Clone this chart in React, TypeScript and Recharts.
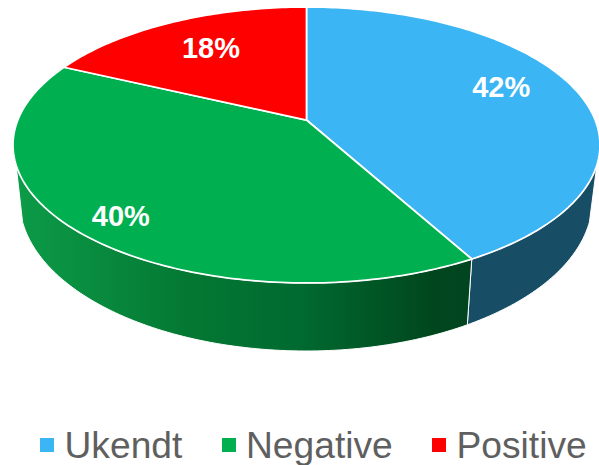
import { PieChart, Pie, Legend } from 'recharts'

const categories = ['Ukendt', 'Negative', 'Positive']
const shares = [42, 40, 18]
const faceColors = ['#3BB5F3', '#00B050', '#FF0000']
const wallColors = ['#174D65', 'url(#greenWall)', '#B00000']

const chartData = categories.map((name, i) => ({
  name,
  value: shares[i],
  fill: faceColors[i],
  wall: wallColors[i],
}))

// tilt + perspective of the fake 3D disc
const TILT = 138 / 293.5
const SKEW = -0.181
const WALL_FROM = 0.145 // wall only shows below this height on the ellipse
const BOTTOM = { dx: -0.5, dy: 55, rx: 286.5 / 293.5, ry: 151 / 138 }

// where each percentage sits (fraction of the radius, then a small vertical nudge)
const labelReach = [0.715, 0.84, 0.69]
const labelNudge = [-10, 4, -2]

const project = (deg: number, reach = 1) => {
  const a = (deg * Math.PI) / 180
  const u = Math.sin(a) * reach
  const v = -Math.cos(a) * reach
  const d = 1 + SKEW * v
  return {
    x: (Math.sqrt(1 - SKEW * SKEW) * u) / d,
    y: (v + SKEW) / d,
  }
}

const arcDegrees = (from: number, to: number) => {
  const out: number[] = []
  for (let d = from; d < to; d += 1) out.push(d)
  out.push(to)
  return out
}

function DiscSlice(props: any) {
  const { cx, cy, outerRadius, startAngle, endAngle, fill, wall } = props
  const from = 90 - startAngle
  const to = 90 - endAngle
  const rx = outerRadius
  const ry = outerRadius * TILT

  const top = (d: number) => {
    const p = project(d)
    return `${cx + p.x * rx},${cy + p.y * ry}`
  }
  const bottom = (d: number) => {
    const p = project(d)
    return `${cx + BOTTOM.dx + p.x * rx * BOTTOM.rx},${cy + BOTTOM.dy + p.y * ry * BOTTOM.ry}`
  }

  const wallV = (WALL_FROM - SKEW) / (1 - WALL_FROM * SKEW)
  const wallStart = (Math.acos(-wallV) * 180) / Math.PI
  const wallA = Math.max(from, wallStart)
  const wallB = Math.min(to, 360 - wallStart)

  const faceArc = arcDegrees(from, to).map(top).join(' L')
  const apex = project(0, 0)

  return (
    <g>
      {wallA < wallB && (
        <path
          d={`M${arcDegrees(wallA, wallB).map(top).join(' L')} L${arcDegrees(wallA, wallB).reverse().map(bottom).join(' L')} Z`}
          fill={wall}
          stroke="#fff"
          strokeWidth={1}
        />
      )}
      <path
        d={`M${cx + apex.x * rx},${cy + apex.y * ry} L${faceArc} Z`}
        fill={fill}
        stroke="#fff"
        strokeWidth={1.75}
        strokeLinejoin="round"
      />
    </g>
  )
}

function PercentLabel(props: any) {
  const { cx, cy, outerRadius, midAngle, index, value } = props
  const p = project(90 - midAngle, labelReach[index])
  return (
    <text
      x={cx + p.x * outerRadius + 1}
      y={cy + p.y * outerRadius * TILT + labelNudge[index]}
      fill="#fff"
      textAnchor="middle"
      dominantBaseline="central"
      fontFamily="Liberation Sans"
      fontWeight="bold"
      fontSize={29}
    >
      {value}%
    </text>
  )
}

function LegendRow({ payload }: any) {
  return (
    <div style={{ display: 'flex', paddingLeft: 40, gap: 39.2, alignItems: 'center' }}>
      {(payload || []).map((item: any) => (
        <div key={item.value} style={{ display: 'flex', alignItems: 'center' }}>
          <span style={{ width: 14, height: 14, background: item.color, marginRight: 10.5 }} />
          <span style={{ fontFamily: 'Liberation Sans', fontSize: 37.2, color: '#5F5F5F', lineHeight: '46px' }}>
            {item.value}
          </span>
        </div>
      ))}
    </div>
  )
}

export default function App() {
  return (
    <div style={{ position: 'absolute', left: 0, top: 0 }}>
      <PieChart width={599} height={465} margin={{ top: 0, right: 0, bottom: 0, left: 0 }}>
        <defs>
          <linearGradient id="greenWall" gradientUnits="userSpaceOnUse" x1="14" y1="0" x2="470" y2="0">
            <stop offset="0" stopColor="#0C9C48" />
            <stop offset="0.38" stopColor="#047833" />
            <stop offset="0.63" stopColor="#006A30" />
            <stop offset="0.92" stopColor="#00461D" />
            <stop offset="1" stopColor="#004520" />
          </linearGradient>
        </defs>
        <Pie
          data={chartData}
          dataKey="value"
          nameKey="name"
          cx={306.5}
          cy={145}
          outerRadius={293.5}
          startAngle={90}
          endAngle={-270}
          shape={DiscSlice}
          label={PercentLabel}
          labelLine={false}
          isAnimationActive={false}
        />
        <Legend
          content={LegendRow}
          itemSorter={null}
          wrapperStyle={{ position: 'absolute', left: 0, top: 422, width: 599, height: 46 }}
        />
      </PieChart>
    </div>
  )
}
